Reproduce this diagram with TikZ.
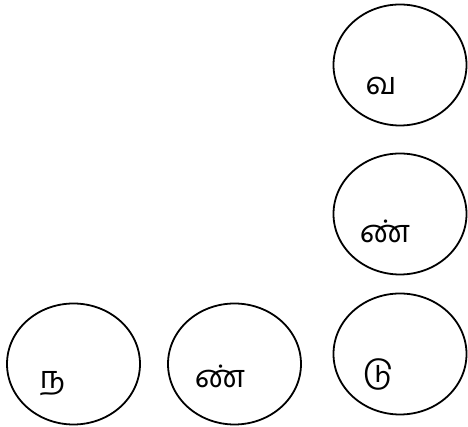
\documentclass[tikz,border=0pt]{standalone}
\usepackage{fontspec}
\newfontfamily\tamilfont[Script=Tamil]{Hind Madurai}
\usetikzlibrary{shapes.geometric}
\tikzset{
  cell/.style={draw, ellipse, line width=1.8pt, minimum width=133pt, minimum height=121pt, inner sep=0pt},
  letter/.style={anchor=base, inner sep=0pt, font=\tamilfont\fontsize{31}{36}\selectfont}
}
\begin{document}
\begin{tikzpicture}[x=1pt, y=1pt]
  \useasboundingbox (0,0) rectangle (468,427);
  % circles
  \foreach \name/\x/\y in {va/400/362, nnr/400/213, du/400/73, na/73.5/63, nnb/234.5/63} {
    \node [cell] (\name) at (\x,\y) {};
  };
  % letters
  \node [letter] (lva) at (381,332) {வ};
  \node [letter] (lnnr) at (385,184) {ண்};
  \node [letter] (ldu) at (378,44) {டு};
  \node [letter] (lna) at (52.5,38) {ந};
  \node [letter] (lnnb) at (220,39) {ண்};
\end{tikzpicture}
\end{document}
